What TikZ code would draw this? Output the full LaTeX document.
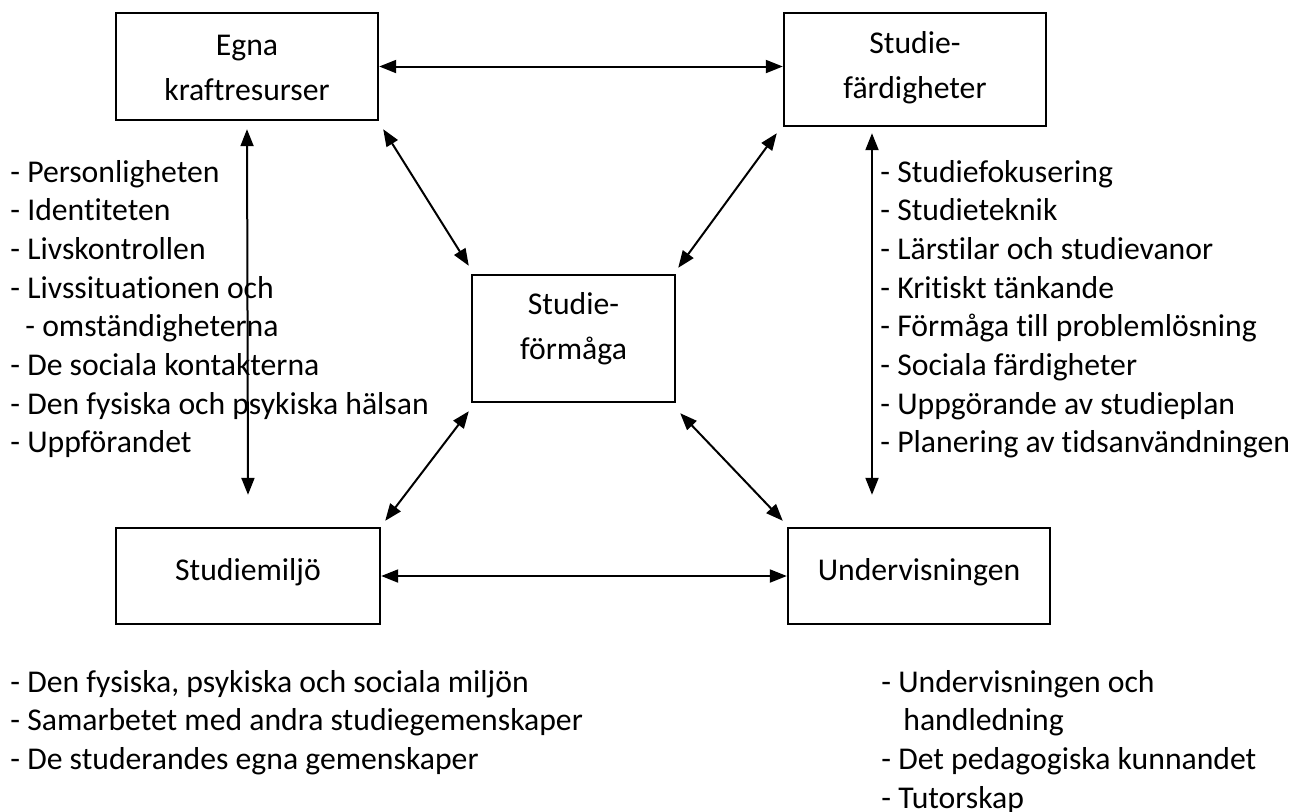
\documentclass[tikz,border=0pt]{standalone}
\usepackage{fontspec}
\setmainfont{Carlito}[Ligatures={NoCommon,TeX}]
\usetikzlibrary{arrows.meta}

\tikzset{
  box/.style={draw,line width=1.2pt,inner sep=0pt},
  boxtext/.style={inner sep=0pt,align=center,font=\fontsize{15.85}{22.5}\selectfont},
  item/.style={anchor=base west,inner sep=0pt,font=\fontsize{15.85}{19.35}\selectfont},
  link/.style={line width=1pt,<->,>={Triangle[length=8.5pt,width=6.5pt]}},
}

\begin{document}
\begin{tikzpicture}[x=0.5pt,y=-0.5pt]
  \useasboundingbox (0,0) rectangle (1299,811);
  % the five boxes
  \node[box,minimum width=131pt,minimum height=53.5pt] (egna) at (247,66.5) {};
  \node[box,minimum width=131pt,minimum height=56.5pt] (fard) at (915,69.5) {};
  \node[box,minimum width=101.5pt,minimum height=63.5pt] (formaga) at (573.5,338.5) {};
  \node[box,minimum width=132pt,minimum height=48pt] (miljo) at (248,576) {};
  \node[box,minimum width=131pt,minimum height=48pt] (underv) at (919,576) {};
  \node[boxtext] (egnatext) at (247,68) {Egna\\kraftresurser};
  \node[boxtext] (fardtext) at (915,68) {Studie-\\färdigheter};
  \node[boxtext] (formagatext) at (573.5,329) {Studie-\\förmåga};
  \node[boxtext] (miljotext) at (248,572) {Studiemiljö};
  \node[boxtext] (undervtext) at (919,572) {Undervisningen};

  % arrows
  \draw[link] (egna.east) -- (egna.east -| fard.west);
  \draw[link] (miljo.east) -- (miljo.east -| underv.west);
  \draw[link] ([yshift=-4pt]egna.south) -- ([yshift=16pt]miljo.north);
  \draw[link] ([shift={(-21.5pt,-3pt)}]fard.south) -- ([shift={(-23.5pt,16pt)}]underv.north);
  \draw[link] ([shift={(2pt,-4pt)}]egna.south east) -- ([shift={(-1pt,4pt)}]formaga.north west);
  \draw[link] ([shift={(-3pt,-3pt)}]fard.south west) -- ([shift={(1pt,3pt)}]formaga.north east);
  \draw[link] ([shift={(-1pt,-4pt)}]formaga.south west) -- ([shift={(2pt,3pt)}]miljo.north east);
  \draw[link] ([shift={(2pt,-5pt)}]formaga.south east) -- ([shift={(-2pt,3pt)}]underv.north west);

  % lists
  \foreach \txt [count=\i] in {- Personligheten,- Identiteten,- Livskontrollen,- Livssituationen och,
      \hspace*{7.5pt}- omständigheterna,- De sociala kontakterna,- Den fysiska och psykiska hälsan,- Uppförandet}
    \node[item] (kraft\i) at (10,182+38.7*\i-38.7) {\txt};
  \foreach \txt [count=\i] in {- Studiefokusering,- Studieteknik,- Lärstilar och studievanor,- Kritiskt tänkande,
      - Förmåga till problemlösning,- Sociala färdigheter,- Uppgörande av studieplan,- Planering av tidsanvändningen}
    \node[item] (fard\i) at (880,182+38.7*\i-38.7) {\txt};
  \foreach \txt [count=\i] in {{- Den fysiska, psykiska och sociala miljön},- Samarbetet med andra studiegemenskaper,
      - De studerandes egna gemenskaper}
    \node[item] (miljo\i) at (10,692+38.7*\i-38.7) {\txt};
  \foreach \txt [count=\i] in {- Undervisningen och,\hspace*{11pt}handledning,- Det pedagogiska kunnandet,- Tutorskap}
    \node[item] (underv\i) at (881,692+38.7*\i-38.7) {\txt};
\end{tikzpicture}
\end{document}
